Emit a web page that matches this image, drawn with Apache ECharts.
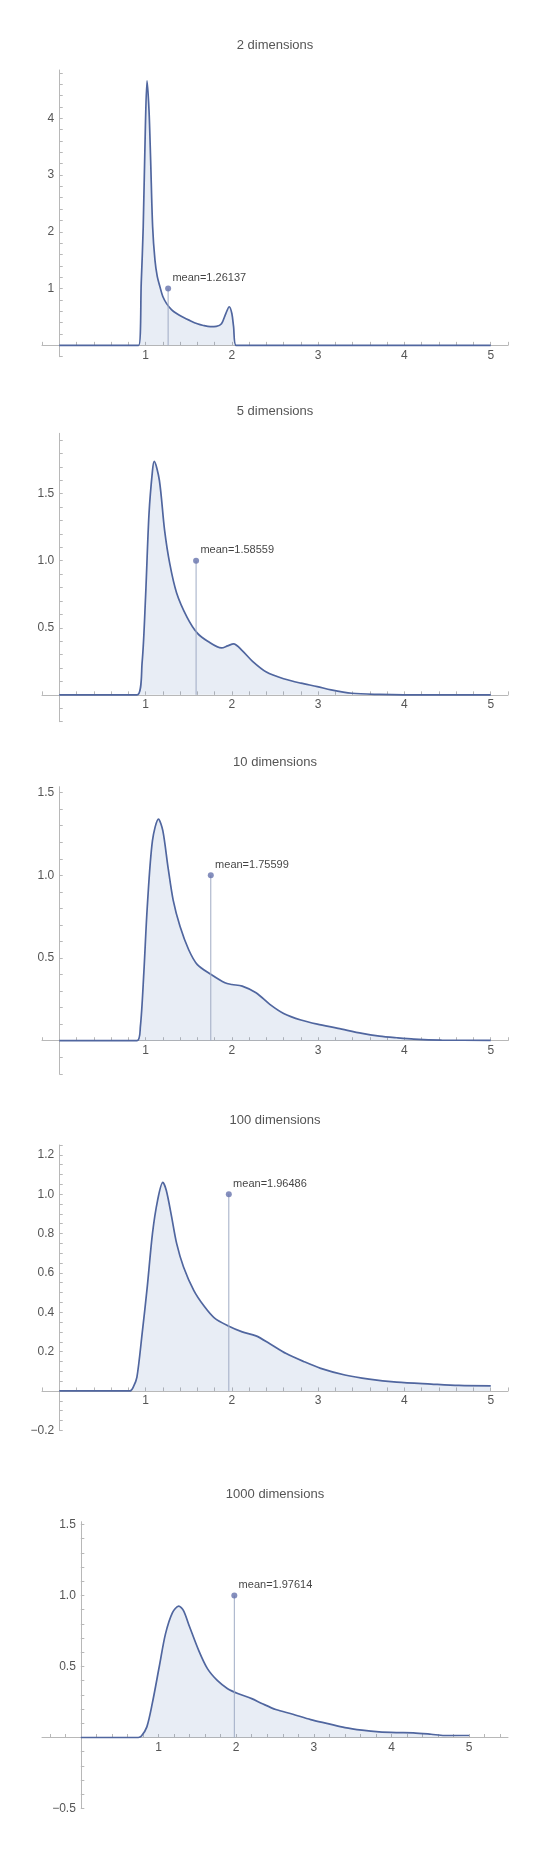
<!DOCTYPE html>
<html>
<head>
<meta charset="utf-8">
<script src="https://cdn.jsdelivr.net/npm/echarts@6/dist/echarts.min.js"></script>
<style>
html,body{margin:0;padding:0;background:#fff;}
#main{width:540px;height:1857px;}
</style>
</head>
<body>
<div id="main"></div>
<script>
// ---------- data ----------
const titles = ['2 dimensions', '5 dimensions', '10 dimensions', '100 dimensions', '1000 dimensions'];
const means = [1.26137, 1.58559, 1.75599, 1.96486, 1.97614];
const meanHeight = 1;

const d2 = [[0,0],[0.92,0],[0.95,1.1],[0.973,2.09],[0.998,3.85],[1.017,4.66],[1.04,4.14],[1.059,3.26],[1.082,2.09],[1.109,1.5],[1.135,1.22],[1.167,1.03],[1.2,0.86],[1.244,0.735],[1.3,0.63],[1.36,0.56],[1.43,0.5],[1.51,0.44],[1.6,0.38],[1.67,0.35],[1.75,0.33],[1.82,0.335],[1.88,0.38],[1.93,0.56],[1.97,0.68],[2.0,0.56],[2.02,0.33],[2.05,0],[5,0]];
const d5 = [[0,0],[0.9,0],[0.96,0.24],[1.0,0.73],[1.04,1.35],[1.08,1.67],[1.1,1.74],[1.16,1.6],[1.22,1.23],[1.28,0.98],[1.36,0.76],[1.48,0.58],[1.6,0.46],[1.72,0.40],[1.88,0.35],[1.95,0.365],[2.02,0.38],[2.12,0.33],[2.24,0.25],[2.4,0.17],[2.6,0.12],[2.8,0.087],[2.99,0.062],[3.15,0.037],[3.39,0.012],[3.71,0.003],[3.99,0],[5,0]];
const d10 = [[0,0],[0.9,0],[0.94,0.085],[0.98,0.41],[1.02,0.81],[1.08,1.21],[1.15,1.34],[1.2,1.27],[1.26,1.05],[1.32,0.85],[1.4,0.69],[1.5,0.55],[1.6,0.46],[1.76,0.40],[1.92,0.35],[2.0,0.34],[2.12,0.33],[2.28,0.29],[2.44,0.22],[2.6,0.165],[2.8,0.125],[2.99,0.10],[3.23,0.075],[3.51,0.044],[3.71,0.028],[3.91,0.018],[4.11,0.01],[4.43,0.004],[5,0.002]];
const d100 = [[0,0],[0.82,0],[0.86,0.022],[0.9,0.07],[0.96,0.29],[1.02,0.53],[1.08,0.8],[1.14,0.97],[1.2,1.06],[1.24,1.02],[1.3,0.89],[1.36,0.75],[1.44,0.63],[1.56,0.51],[1.68,0.43],[1.8,0.37],[1.96,0.33],[2.12,0.30],[2.28,0.28],[2.44,0.24],[2.63,0.19],[2.83,0.15],[3.03,0.115],[3.31,0.081],[3.59,0.06],[3.91,0.045],[4.31,0.035],[4.63,0.028],[5,0.026]];
const d1000 = [[0,0],[0.74,0],[0.78,0.01],[0.85,0.075],[0.92,0.24],[1.01,0.50],[1.09,0.73],[1.18,0.88],[1.26,0.925],[1.32,0.895],[1.4,0.78],[1.52,0.61],[1.63,0.485],[1.76,0.40],[1.89,0.344],[2.02,0.31],[2.2,0.274],[2.33,0.24],[2.51,0.197],[2.73,0.164],[2.96,0.126],[3.18,0.098],[3.4,0.07],[3.62,0.052],[3.84,0.04],[4.06,0.035],[4.28,0.033],[4.51,0.023],[4.68,0.014],[5.0,0.014]];

// tick labels
const xTickLabels = [1, 2, 3, 4, 5];
const yTickLabels1 = [1, 2, 3, 4];
const yTickLabels2 = [0.5, 1.0, 1.5];
const yTickLabels3 = [0.5, 1.0, 1.5];
const yTickLabels4 = [-0.2, 0.2, 0.4, 0.6, 0.8, 1.0, 1.2];
const yTickLabels5 = [-0.5, 0.5, 1.0, 1.5];

// ---------- layout ----------
const GRID_LEFT = 42, GRID_WIDTH = 466;
const panels = [
  {data: d2,    yLabels: yTickLabels1, dec: 0, xMin: -0.2, xMax: 5.2, yMin: -0.2, yMax: 4.85, yStep: 0.2,  xStep: 0.2, top: 70,     height: 286.7, titleY: 45},
  {data: d5,    yLabels: yTickLabels2, dec: 1, xMin: -0.2, xMax: 5.2, yMin: -0.2, yMax: 1.95, yStep: 0.1,  xStep: 0.2, top: 433.3,  height: 288.4, titleY: 411},
  {data: d10,   yLabels: yTickLabels3, dec: 1, xMin: -0.2, xMax: 5.2, yMin: -0.2, yMax: 1.536, yStep: 0.1, xStep: 0.2, top: 786.7,  height: 287.1, titleY: 762.7},
  {data: d100,  yLabels: yTickLabels4, dec: 1, xMin: -0.2, xMax: 5.2, yMin: -0.2, yMax: 1.25, yStep: 0.05, xStep: 0.2, top: 1145,   height: 285.3, titleY: 1120},
  {data: d1000, yLabels: yTickLabels5, dec: 1, xMin: -0.5, xMax: 5.5, yMin: -0.5, yMax: 1.52, yStep: 0.1,  xStep: 0.2, top: 1521.7, height: 286.8, titleY: 1494}
];

const FONT = '"Liberation Sans", Arial, Helvetica, sans-serif';
const LINE = '#50669f';
const AXIS = '#b8b8b8';

function ticksBetween(min, max, step) {
  const out = [];
  const k0 = Math.ceil(min / step - 1e-9), k1 = Math.floor(max / step + 1e-9);
  for (let k = k0; k <= k1; k++) {
    const v = Math.round(k * step * 10000) / 10000;
    if (v !== 0) out.push(v);
  }
  return out;
}
function fmt(v, dec) {
  return v.toFixed(dec).replace('-', '\u2212');
}

const grids = [], xAxes = [], yAxes = [], series = [], graphics = [];
panels.forEach((p, i) => {
  // labels are laid out at the grid edge; shift them back next to the zero-crossing axes
  const pxPerX = GRID_WIDTH / (p.xMax - p.xMin);
  const pxPerY = p.height / (p.yMax - p.yMin);
  const xLabelMargin = 4 - (0 - p.yMin) * pxPerY;
  const yLabelMargin = 5 - (0 - p.xMin) * pxPerX;

  grids.push({left: GRID_LEFT, width: GRID_WIDTH, top: p.top, height: p.height, containLabel: false});
  xAxes.push({
    type: 'value', gridIndex: i, min: p.xMin, max: p.xMax,
    axisLine: {show: true, onZero: true, lineStyle: {color: AXIS, width: 1}},
    axisTick: {show: true, inside: true, length: 3.5, customValues: ticksBetween(p.xMin, p.xMax, p.xStep), lineStyle: {color: AXIS}},
    axisLabel: {customValues: xTickLabels, color: '#555', fontSize: 12, fontFamily: FONT, margin: xLabelMargin, formatter: v => fmt(v, 0)},
    splitLine: {show: false}
  });
  yAxes.push({
    type: 'value', gridIndex: i, min: p.yMin, max: p.yMax,
    axisLine: {show: true, onZero: true, lineStyle: {color: AXIS, width: 1}},
    axisTick: {show: true, inside: true, length: 3.5, customValues: ticksBetween(p.yMin, p.yMax, p.yStep), lineStyle: {color: AXIS}},
    axisLabel: {customValues: p.yLabels, color: '#555', fontSize: 12, fontFamily: FONT, margin: yLabelMargin, formatter: v => fmt(v, p.dec)},
    splitLine: {show: false}
  });
  series.push({
    type: 'line', xAxisIndex: i, yAxisIndex: i, data: p.data,
    smooth: 0.3, symbol: 'none', silent: true,
    lineStyle: {color: LINE, width: 1.7},
    areaStyle: {color: 'rgba(94,129,181,0.2)'},
    z: 2
  });
  series.push({
    type: 'line', xAxisIndex: i, yAxisIndex: i,
    data: [[means[i], 0], [means[i], meanHeight]],
    symbol: 'none', silent: true,
    lineStyle: {color: '#9fabc4', width: 1},
    z: 3
  });
  series.push({
    type: 'scatter', xAxisIndex: i, yAxisIndex: i,
    data: [[means[i], meanHeight]],
    symbol: 'circle', symbolSize: 6, silent: true,
    itemStyle: {color: '#6673ad'},
    label: {show: true, position: [7.3, -7.5], align: 'left', verticalAlign: 'middle',
            formatter: () => 'mean=' + means[i], color: '#111', fontSize: 11, fontFamily: FONT},
    z: 4
  });
  graphics.push({
    type: 'text', x: 275, y: p.titleY,
    style: {text: titles[i], fill: '#555', font: '13px ' + FONT, textAlign: 'center', textVerticalAlign: 'middle'}
  });
});

const chart = echarts.init(document.getElementById('main'), null, {renderer: 'canvas'});
chart.setOption({
  animation: false,
  backgroundColor: '#ffffff',
  grid: grids,
  xAxis: xAxes,
  yAxis: yAxes,
  series: series,
  graphic: graphics
});
</script>
</body>
</html>
